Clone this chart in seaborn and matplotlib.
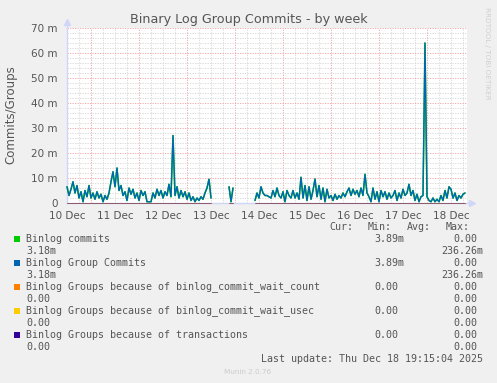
import numpy as np
import pandas as pd
import matplotlib
matplotlib.use("Agg")
import matplotlib.pyplot as plt
from matplotlib.patches import Rectangle
from matplotlib.ticker import FixedLocator, MultipleLocator
import seaborn as sns

# ---------------------------------------------
# data (hourly, starting 10 Dec 12:00), unit: milli per second
# ---------------------------------------------
nan = np.nan
commits = [
    6.5, 3, 5.5, 8.5, 4, 7, 2, 4.5, 0.5, 5,
    2.5, 7, 2, 4, 1.5, 4.5, 2, 3.5, 0.5, 3,
    1.5, 4, 8.5, 12.5, 6.5, 14, 5, 7, 3, 4.5,
    1, 6, 3.5, 5.5, 2, 4, 1, 5, 3, 4.5,
    0.5, 0.5, 0.5, 4, 2, 5.5, 3, 5, 2, 4.5,
    3, 7.5, 2.5, 27, 3, 6.5, 2, 5, 2.5, 4.5,
    1.5, 4, 1, 2.5, 0.5, 2, 1, 2.5, 1.5, 4,
    6, 9.5, 2,
    nan, nan, nan, nan, nan, nan, nan, nan,
    6.5, 0.5, 6,
    nan, nan, nan, nan, nan, nan, nan, nan, nan, nan,
    1, 4, 2, 6.5, 4,
    3, 3, 2.5, 2, 5, 2.5, 6, 3, 2, 4.5,
    0.5, 5, 3, 2, 5, 2, 4, 1.5, 10.3, 2,
    7, 1, 6.5, 1.5, 5, 9.6, 2.5, 7, 1.5, 6,
    0.5, 5.5, 2, 3, 1, 3.5, 1.5, 3, 2, 4,
    2.5, 4.5, 6, 3, 5.5, 3.5, 5, 2.5, 6, 3,
    11.5,
    4, 2.5, 0.5, 6, 1.5, 4.5, 0.5, 5, 2.5, 4.5,
    1.5, 4, 2, 3, 5, 1, 4, 2, 5.5, 3,
    4, 7.5, 3, 5, 1, 3.5, 0.5, 2.5, 3, 64,
    2.5, 1, 0.5, 2, 0.5, 1.5, 0.5, 3, 1, 5,
    2, 6.5, 5.5, 2, 4, 1, 3, 2, 3.5, 4,
]
group_commits = list(commits)  # same values in the source graph
# the three "because of" counters are flat zero wherever data exists
wait_count = [nan if np.isnan(v) else 0.0 for v in commits]
wait_usec = list(wait_count)
transactions = list(wait_count)

series_names = ["Binlog commits", "Binlog Group Commits",
                "Binlog Groups because of binlog_commit_wait_count",
                "Binlog Groups because of binlog_commit_wait_usec",
                "Binlog Groups because of transactions"]
series_colors = ["#00CC00", "#0066B3", "#FF8000", "#FFCC00", "#330099"]
min_vals = ["3.89m", "3.89m", "0.00", "0.00", "0.00"]
avg_vals = ["3.18m", "3.18m", "0.00", "0.00", "0.00"]
max_vals = ["0.00", "0.00", "0.00", "0.00", "0.00"]
max2_vals = ["236.26m", "236.26m", "0.00", "0.00", "0.00"]

day_labels = ["10 Dec", "11 Dec", "12 Dec", "13 Dec", "14 Dec",
              "15 Dec", "16 Dec", "17 Dec", "18 Dec"]
y_ticks = [0, 10, 20, 30, 40, 50, 60, 70]
y_labels = ["0", "10 m", "20 m", "30 m", "40 m", "50 m", "60 m", "70 m"]

hours = np.arange(len(commits))

def to_frame(vals):
    v = np.array(vals, dtype=float)
    seg = np.cumsum(np.isnan(v))  # new segment after every gap
    df = pd.DataFrame({"hour": hours, "value": v, "seg": seg})
    return df.dropna()

# ---------------------------------------------
# figure
# ---------------------------------------------
sns.set_style("white")
plt.rcParams["font.family"] = ["DejaVu Sans"]
W, H = 497, 383
fig = plt.figure(figsize=(W / 100, H / 100), dpi=100)
fig.patch.set_facecolor("#F0F0F0")
ax = fig.add_axes([67 / W, 1 - 203 / H, 400 / W, 175 / H])
ax.set_facecolor("white")

all_series = [commits, group_commits, wait_count, wait_usec, transactions]
widths = [1.15, 0.95, 0.6, 0.6, 0.6]
alphas = [1, 1, 0.6, 0.6, 0.6]
for vals, col, lw, al in zip(all_series, series_colors, widths, alphas):
    sns.lineplot(data=to_frame(vals), x="hour", y="value", units="seg",
                 estimator=None, color=col, lw=lw, alpha=al, ax=ax, zorder=3)
for ln in ax.lines:
    ln.set_clip_on(False)

ax.set_xlim(0, 200)
ax.set_ylim(0, 70)
ax.set_xlabel("")
ax.set_ylabel("")

# grid: midnight / 10 m red, 6h / 2 m grey
ax.xaxis.set_major_locator(FixedLocator([12 + 24 * i for i in range(8)]))
ax.xaxis.set_minor_locator(MultipleLocator(6))
ax.yaxis.set_major_locator(FixedLocator(y_ticks))
ax.yaxis.set_minor_locator(MultipleLocator(2))
ax.set_xticklabels([])
ax.set_yticklabels(y_labels)
ax.grid(which="minor", color="#D4D4D4", lw=0.6, ls=(0, (1.5, 1.5)))
ax.grid(which="major", color="#EFA0A0", lw=0.6, ls=(0, (1.5, 1.5)))
ax.set_axisbelow(True)
ax.tick_params(axis="x", which="major", length=2.5, color="#E08080", width=0.6)
ax.tick_params(axis="x", which="minor", length=0)
ax.tick_params(axis="y", which="major", length=2, color="#E08080", width=0.6,
               labelsize=7.5, labelcolor="#555555", pad=4.5)
ax.tick_params(axis="y", which="minor", length=0)

for i, lab in enumerate(day_labels):
    ax.text(24 * i, -0.045, lab, transform=ax.get_xaxis_transform(),
            ha="center", va="top", fontsize=7.5, color="#555555")

for s in ["top", "right"]:
    ax.spines[s].set_visible(False)
for s in ["left", "bottom"]:
    ax.spines[s].set_color("#CFD6F8")
    ax.spines[s].set_linewidth(1.0)

# axis arrows
ax.plot([0, 0], [1, 1.035], color="#CFD6F8", lw=1, transform=ax.transAxes, clip_on=False)
ax.plot([0], [1.035], marker="^", ms=4, color="#CFD6F8", transform=ax.transAxes, clip_on=False)
ax.plot([1, 1.012], [0, 0], color="#CFD6F8", lw=1, transform=ax.transAxes, clip_on=False)
ax.plot([1.012], [0], marker=">", ms=4, color="#CFD6F8", transform=ax.transAxes, clip_on=False)

# titles
fig.text(248.5 / W, 1 - 19 / H, "Binary Log Group Commits - by week",
         ha="center", va="center", fontsize=9.2, color="#555555")
fig.text(11 / W, 1 - 115 / H, "Commits/Groups", rotation=90,
         ha="center", va="center", fontsize=8.5, color="#555555")
fig.text(487 / W, 1 - 53 / H, "RRDTOOL / TOBI OETIKER", rotation=270,
         ha="center", va="center", fontsize=5.2, color="#D0D0D0")

# legend block (rrdtool style)
mono = dict(family="DejaVu Sans Mono", fontsize=7.2, color="#555555", va="center")
def fy(py):
    return 1 - py / H

fig.text(353 / W, fy(227), "Cur:", ha="right", **mono)
fig.text(392 / W, fy(227), "Min:", ha="right", **mono)
fig.text(431 / W, fy(227), "Avg:", ha="right", **mono)
fig.text(470 / W, fy(227), "Max:", ha="right", **mono)

for i, name in enumerate(series_names):
    y1 = 239 + 24 * i
    y2 = y1 + 12
    fig.patches.append(Rectangle((14 / W, fy(y1 + 3)), 6 / W, 6 / H,
                                 transform=fig.transFigure,
                                 facecolor=series_colors[i], edgecolor="none"))
    fig.text(26 / W, fy(y1), name, ha="left", **mono)
    min_right = 404 if min_vals[i].endswith("m") else 398
    fig.text(min_right / W, fy(y1), min_vals[i], ha="right", **mono)
    fig.text(477 / W, fy(y1), max_vals[i], ha="right", **mono)
    fig.text(26 / W, fy(y2), avg_vals[i], ha="left", **mono)
    max2_right = 483 if max2_vals[i].endswith("m") else 477
    fig.text(max2_right / W, fy(y2), max2_vals[i], ha="right", **mono)

fig.text(483 / W, fy(359), "Last update: Thu Dec 18 19:15:04 2025", ha="right", **mono)
fig.text(248 / W, fy(372), "Munin 2.0.76", ha="center", va="center",
         fontsize=5.2, color="#CCCCCC")

fig.savefig("out.png", dpi=100, facecolor=fig.get_facecolor())
